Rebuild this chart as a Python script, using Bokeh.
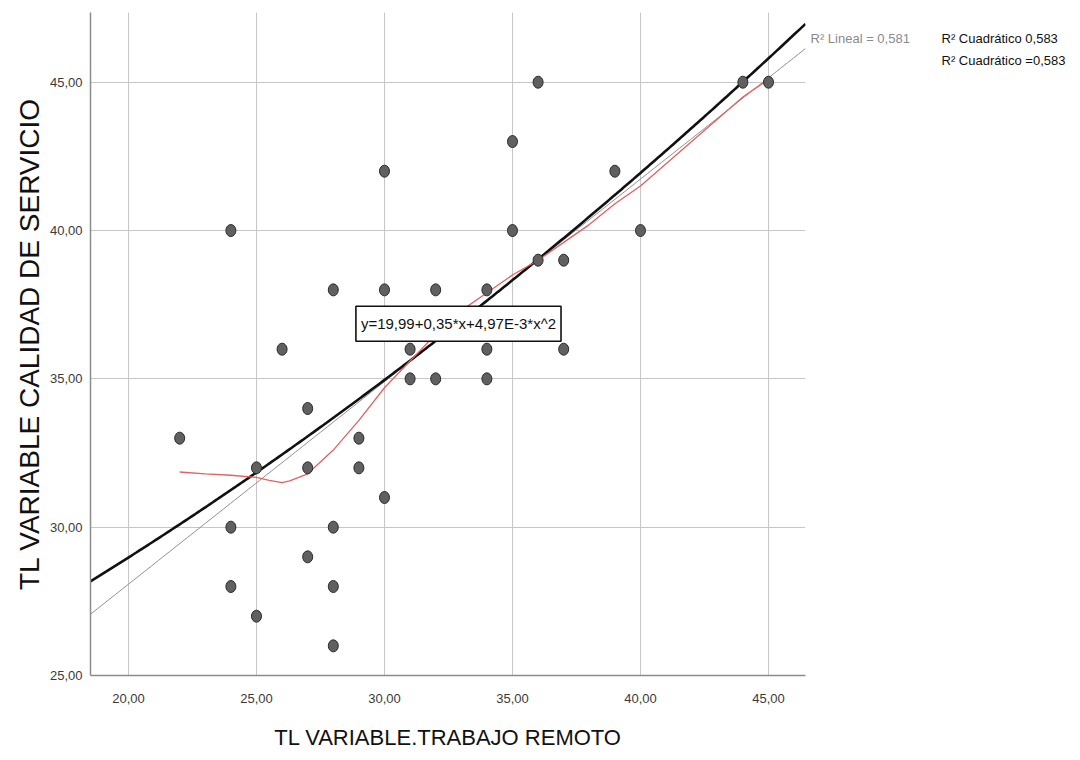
import numpy as np
from bokeh.plotting import figure
from bokeh.layouts import row
from bokeh.models import Range1d, FixedTicker, Label
from bokeh.embed import file_html
from bokeh.resources import INLINE

# ---- data ----
trabajo_remoto = [22, 24, 24, 24, 25, 25, 26, 27, 27, 27, 28, 28, 28, 28, 29, 29,
                  30, 30, 30, 31, 31, 32, 32, 34, 34, 34, 35, 35, 36, 36, 37, 37,
                  39, 40, 44, 45]
calidad_servicio = [33, 40, 30, 28, 32, 27, 36, 34, 32, 29, 38, 30, 28, 26, 33, 32,
                    42, 38, 31, 36, 35, 38, 35, 38, 36, 35, 43, 40, 45, 39, 39, 36,
                    42, 40, 45, 45]

# quadratic fit as printed on the chart: y = 19.99 + 0.35 x + 4.97E-3 x^2
quad_coef = [19.99, 0.35, 4.97e-3]

# loess (red) curve
loess_x = [22, 23, 24, 25, 25.5, 26, 26.3, 27, 28, 29, 30, 31, 32, 33, 34, 35, 36,
           37, 38, 39, 40, 42, 44, 45]
loess_y = [31.86, 31.8, 31.75, 31.68, 31.58, 31.5, 31.56, 31.8, 32.6, 33.6, 34.7,
           35.6, 36.5, 37.3, 37.9, 38.5, 39.0, 39.6, 40.2, 40.9, 41.5, 43.0, 44.5, 45.1]

x_ticks = [20, 25, 30, 35, 40, 45]
x_tick_labels = ["20,00", "25,00", "30,00", "35,00", "40,00", "45,00"]
y_ticks = [25, 30, 35, 40, 45]
y_tick_labels = ["25,00", "30,00", "35,00", "40,00", "45,00"]

x_title = "TL VARIABLE.TRABAJO REMOTO"
y_title = "TL VARIABLE CALIDAD DE SERVICIO"
eq_text = "y=19,99+0,35*x+4,97E-3*x^2"
r2_lineal = "R\u00b2 Lineal = 0,581"
r2_quad_1 = "R\u00b2 Cuadrático 0,583"
r2_quad_2 = "R\u00b2 Cuadrático =0,583"

SANS = "'Liberation Sans', Arial, sans-serif"

X0, X1 = 18.516, 46.446
Y0, Y1 = 25.0, 47.35

H = 752
p = figure(width=808, height=H, output_backend="svg", toolbar_location=None,
           x_range=Range1d(X0, X1), y_range=Range1d(Y0, Y1),
           min_border_left=90, min_border_right=3, min_border_top=12,
           min_border_bottom=74)
p.outline_line_color = None
p.background_fill_color = "white"
p.border_fill_color = "white"

for ax in (p.xaxis[0], p.yaxis[0]):
    ax.axis_line_color = "#8c8c8c"
    ax.axis_line_width = 1.5
    ax.major_tick_line_color = None
    ax.minor_tick_line_color = None
    ax.major_label_text_font = SANS
    ax.major_label_text_font_size = "13px"
    ax.major_label_text_color = "#3a3a3a"
    ax.axis_label_text_font_style = "normal"
    ax.axis_label_text_color = "#111111"

p.xaxis.ticker = FixedTicker(ticks=x_ticks)
p.xaxis.major_label_overrides = dict(zip(x_ticks, x_tick_labels))
p.yaxis.ticker = FixedTicker(ticks=y_ticks)
p.yaxis.major_label_overrides = dict(zip(y_ticks, y_tick_labels))
p.xaxis.major_label_standoff = 12
p.yaxis.major_label_standoff = 2

p.xaxis.axis_label = x_title
p.xaxis.axis_label_text_font = SANS
p.xaxis.axis_label_text_font_size = "22px"
p.xaxis.axis_label_standoff = 19
p.yaxis.axis_label = y_title
p.yaxis.axis_label_text_font = SANS
p.yaxis.axis_label_text_font_size = "28px"
p.yaxis.axis_label_standoff = 2

p.xgrid.grid_line_color = "#c6c6c6"
p.ygrid.grid_line_color = "#c6c6c6"
p.xgrid.grid_line_width = 1
p.ygrid.grid_line_width = 1

xs = np.array(trabajo_remoto, dtype=float)
ys = np.array(calidad_servicio, dtype=float)

# linear fit from the data
lin = np.polyfit(xs, ys, 1)
xl = np.linspace(X0, X1, 200)
p.line(xl, np.polyval(lin, xl), line_color="#8f8f8f", line_width=1)

# quadratic fit
xq = np.linspace(X0, X1, 300)
yq = quad_coef[0] + quad_coef[1] * xq + quad_coef[2] * xq ** 2
p.line(xq, yq, line_color="#111111", line_width=2.6)

# loess
p.line(loess_x, loess_y, line_color="#e06262", line_width=1.3)

# points
p.ellipse(x=trabajo_remoto, y=calidad_servicio, width=10, height=12,
          width_units="screen", height_units="screen",
          fill_color="#606060", line_color="#2a2a2a", line_width=1)

# equation box
p.add_layout(Label(x=32.89, y=36.86, text=eq_text, text_align="center",
                   text_baseline="middle", text_font=SANS, text_font_size="15px",
                   text_color="#111111", background_fill_color="white",
                   border_line_color="#111111", border_line_width=1.6,
                   padding=dict(x=5, y=9)))

# side panel with the fit labels (pixel-like coordinates, y downwards)
SW = 264
side = figure(width=SW, height=H, output_backend="svg", toolbar_location=None,
              x_range=Range1d(0, SW), y_range=Range1d(H, 0),
              min_border=0)
side.axis.visible = False
side.grid.visible = False
side.outline_line_color = None
side.border_fill_color = "white"

side.add_layout(Label(x=2, y=30, text=r2_lineal, text_align="left",
                      text_baseline="middle", text_font=SANS, text_font_size="13px",
                      text_color="#8a8a8a"))
side.add_layout(Label(x=133, y=30, text=r2_quad_1, text_align="left",
                      text_baseline="middle", text_font=SANS, text_font_size="13px",
                      text_color="#111111"))
side.add_layout(Label(x=133, y=55, text=r2_quad_2, text_align="left",
                      text_baseline="middle", text_font=SANS, text_font_size="13px",
                      text_color="#111111"))

layout = row(p, side, spacing=0)
open("out.html", "w").write(file_html(layout, INLINE))
